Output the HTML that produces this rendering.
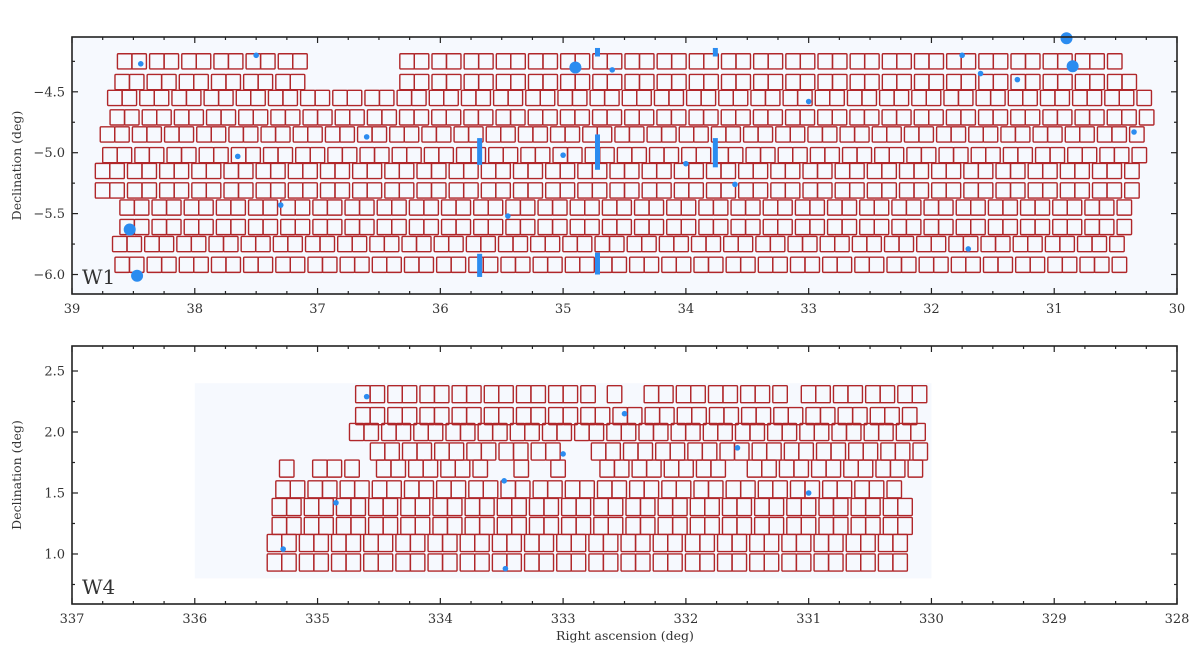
<!DOCTYPE html>
<html><head><meta charset="utf-8"><style>
body{margin:0;background:#fff;}
svg text{font-family:"DejaVu Serif","Liberation Serif",serif;fill:#333;}
</style></head><body>
<svg id="chart" width="1200" height="663" xmlns="http://www.w3.org/2000/svg">
<g id="p1"></g>
<g id="p2"></g>
</svg>
<script>
// ---- W1 data ----
const w1RaTicks = [39,38,37,36,35,34,33,32,31,30];
const w1DecTicks = [-4.5,-5.0,-5.5,-6.0];
// rows: [dec, raLeft, raRight]
const w1Rows = [
 [-4.25,38.63,37.10],[-4.25,36.33,30.38],
 [-4.42,38.65,37.10],[-4.42,36.33,30.36],
 [-4.55,38.71,30.18],
 [-4.71,38.69,30.16],
 [-4.85,38.77,30.24],
 [-5.02,38.75,30.24],
 [-5.15,38.81,30.28],
 [-5.31,38.81,30.28],
 [-5.45,38.61,30.30],
 [-5.61,38.61,30.34],
 [-5.75,38.67,30.38],
 [-5.92,38.65,30.38]
];
const w1BigStars = [[30.9,-4.06],[30.85,-4.29],[34.9,-4.3],[38.53,-5.63],[38.47,-6.01]];
const w1Stars = [[38.44,-4.27],[37.5,-4.2],[37.65,-5.03],[37.3,-5.43],[35.45,-5.52],[34.6,-4.32],[33.6,-5.26],[31.75,-4.2],[31.6,-4.35],[31.3,-4.4],[30.35,-4.83],[31.7,-5.79],[34.0,-5.09],[35.0,-5.02],[36.6,-4.87],[33.0,-4.58]];
const w1Bleeds = [[35.68,-4.88,-5.1],[34.72,-4.85,-5.14],[33.76,-4.88,-5.12],[35.68,-5.83,-6.02],[34.72,-5.82,-6.0],[34.72,-4.14,-4.21],[33.76,-4.14,-4.21]];
// ---- W4 data ----
const w4RaTicks = [337,336,335,334,333,332,331,330,329,328];
const w4DecTicks = [2.5,2.0,1.5,1.0];
const w4Rows = [
 [2.31,334.69,332.75],[2.31,332.64,332.49],[2.31,332.34,331.19],[2.31,331.06,330.05],
 [2.13,334.69,330.05],
 [2.0,334.74,330.05],
 [1.84,334.57,333.04],[1.84,332.77,330.05],
 [1.70,335.31,335.18],[1.70,335.04,334.67],[1.70,334.52,333.53],[1.70,333.4,333.2],[1.70,333.1,332.9],[1.70,332.7,331.68],[1.70,331.5,330.1],
 [1.53,335.34,330.2],
 [1.385,335.37,330.14],
 [1.23,335.37,330.14],
 [1.09,335.41,330.2],
 [0.93,335.41,330.2]
];
const w4Stars = [[335.28,1.04],[333.47,0.88],[334.6,2.29],[332.5,2.15],[331.58,1.87],[333.48,1.6],[334.85,1.42],[331.0,1.5],[333.0,1.82]];

const NS='http://www.w3.org/2000/svg';
function mk(parent,tag,attrs){const e=document.createElementNS(NS,tag);for(const k in attrs)e.setAttribute(k,attrs[k]);parent.appendChild(e);return e;}

function panel(g,cfg){
  const {L,R,T,B,ra0,ra1,dec0,dec1}=cfg;
  const xs=ra=>L+(ra0-ra)/(ra0-ra1)*(R-L);
  const ys=d=>T+(dec1-d)/(dec1-dec0)*(B-T);
  const hz=mk(g,'rect',{x:xs(cfg.hz[0]),y:ys(cfg.hz[3]),width:xs(cfg.hz[1])-xs(cfg.hz[0]),height:ys(cfg.hz[2])-ys(cfg.hz[3]),fill:'#f6f9fe'});
  
  
  const boxW=0.118, pairP=0.262, bh=cfg.bh;
  cfg.rows.forEach(r=>{
    const [d,a,b]=r;
    let ra=a; let i=0;
    while(ra-boxW>=b-0.03){
      const x=xs(ra), w=xs(ra-boxW)-x;
      const rc=mk(g,'rect',{x:x,y:ys(d+bh/2),width:w,height:ys(d-bh/2)-ys(d+bh/2),fill:'none',stroke:'#b0272a','stroke-width':1.4,rx:1});
      
      
      ra -= (i%2===0)? boxW : (pairP-boxW);
      i++;
    }
  });
  (cfg.bleeds||[]).forEach(s=>{
    const r=mk(g,'rect',{x:xs(s[0])-2.5,y:ys(s[1]),width:5,height:ys(s[2])-ys(s[1]),fill:'#2b8cf0'});
    
    
  });
  (cfg.big||[]).forEach(s=>{
    const c=mk(g,'circle',{cx:xs(s[0]),cy:ys(s[1]),r:6,fill:'#2b8cf0'});
    
    
  });
  cfg.stars.forEach(s=>{
    const c=mk(g,'circle',{cx:xs(s[0]),cy:ys(s[1]),r:2.8,fill:'#2b8cf0'});
    
    
  });
  const fr=mk(g,'rect',{x:L,y:T,width:R-L,height:B-T,fill:'none',stroke:'#222','stroke-width':1.6});
  
  
  for(let v=ra0;v>=ra1-1e-6;v-=0.25){
    const x=xs(v); const maj=Math.abs(v-Math.round(v))<1e-6; const l=maj?6:3;
    mk(g,'line',{x1:x,x2:x,y1:B,y2:B-l,stroke:'#222','stroke-width':1.2});
    mk(g,'line',{x1:x,x2:x,y1:T,y2:T+l,stroke:'#222','stroke-width':1.2});
  }
  cfg.raTicks.forEach(v=>{
    const t=mk(g,'text',{x:xs(v),y:B+19,'text-anchor':'middle','font-size':13});
    t.textContent=String(v);
    
    
  });
  const s0=Math.ceil(dec0/0.25)*0.25;
  for(let v=s0;v<=dec1+1e-6;v+=0.25){
    const y=ys(v); const maj=Math.abs(v*2-Math.round(v*2))<1e-6; const l=maj?6:3;
    mk(g,'line',{x1:L,x2:L+l,y1:y,y2:y,stroke:'#222','stroke-width':1.2});
    mk(g,'line',{x1:R,x2:R-l,y1:y,y2:y,stroke:'#222','stroke-width':1.2});
  }
  cfg.decTicks.forEach(v=>{
    const t=mk(g,'text',{x:L-7,y:ys(v)+4.5,'text-anchor':'end','font-size':13});
    t.textContent=(v<0?'\u2212':'')+Math.abs(v).toFixed(1);
    
    
  });
  const yl=mk(g,'text',{x:0,y:0,'text-anchor':'middle','font-size':12.5,transform:`translate(21,${(T+B)/2}) rotate(-90)`});
  yl.textContent='Declination (deg)';
  
  
  const fl=mk(g,'text',{x:L+10,y:B-10,'font-size':20});
  fl.textContent=cfg.label;
  
  
}
panel(document.getElementById('p1'),{L:72,R:1177,T:37,B:294,ra0:39,ra1:30,dec0:-6.16,dec1:-4.05,
  rows:w1Rows,stars:w1Stars,big:w1BigStars,bleeds:w1Bleeds,raTicks:w1RaTicks,decTicks:w1DecTicks,bh:0.125,label:'W1',hz:[39,30,-6.16,-4.05]});
panel(document.getElementById('p2'),{L:72,R:1177,T:346,B:604,ra0:337,ra1:328,dec0:0.59,dec1:2.705,
  rows:w4Rows,stars:w4Stars,raTicks:w4RaTicks,decTicks:w4DecTicks,bh:0.14,label:'W4',hz:[336,330,0.8,2.4]});
const xl=mk(document.getElementById('chart'),'text',{x:625,y:640,'text-anchor':'middle','font-size':12.5});
xl.textContent='Right ascension (deg)';


</script>
</body></html>
